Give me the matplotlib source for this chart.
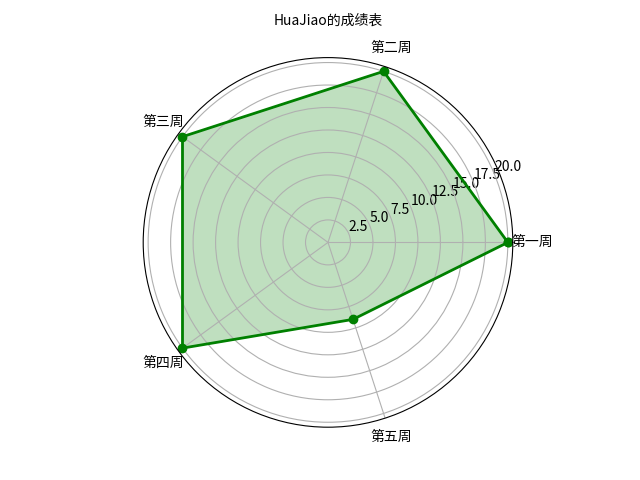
import numpy as np
import matplotlib
matplotlib.use("Agg")
import matplotlib.pyplot as plt

plt.rcParams['font.family'] = ['Noto Sans CJK SC', 'DejaVu Sans']
plt.rcParams['axes.unicode_minus'] = False

labels = ['第一周', '第二周', '第三周', '第四周', '第五周']
scores = [20, 20, 20, 20, 9]
title = 'HuaJiao的成绩表'

n = len(labels)
angles = np.linspace(0, 2 * np.pi, n, endpoint=False)
vals = np.concatenate([scores, [scores[0]]])
ang = np.concatenate([angles, [angles[0]]])

fig = plt.figure(figsize=(6.4, 4.8), dpi=100)
ax = fig.add_subplot(111, polar=True)
ax.plot(ang, vals, 'o-', color='green', linewidth=2)
ax.fill(ang, vals, color='green', alpha=0.25)
ax.set_thetagrids(angles * 180 / np.pi, labels)
ax.set_title(title, fontsize=10, pad=12)
ax.grid(True)
fig.savefig('out.png', dpi=100)
